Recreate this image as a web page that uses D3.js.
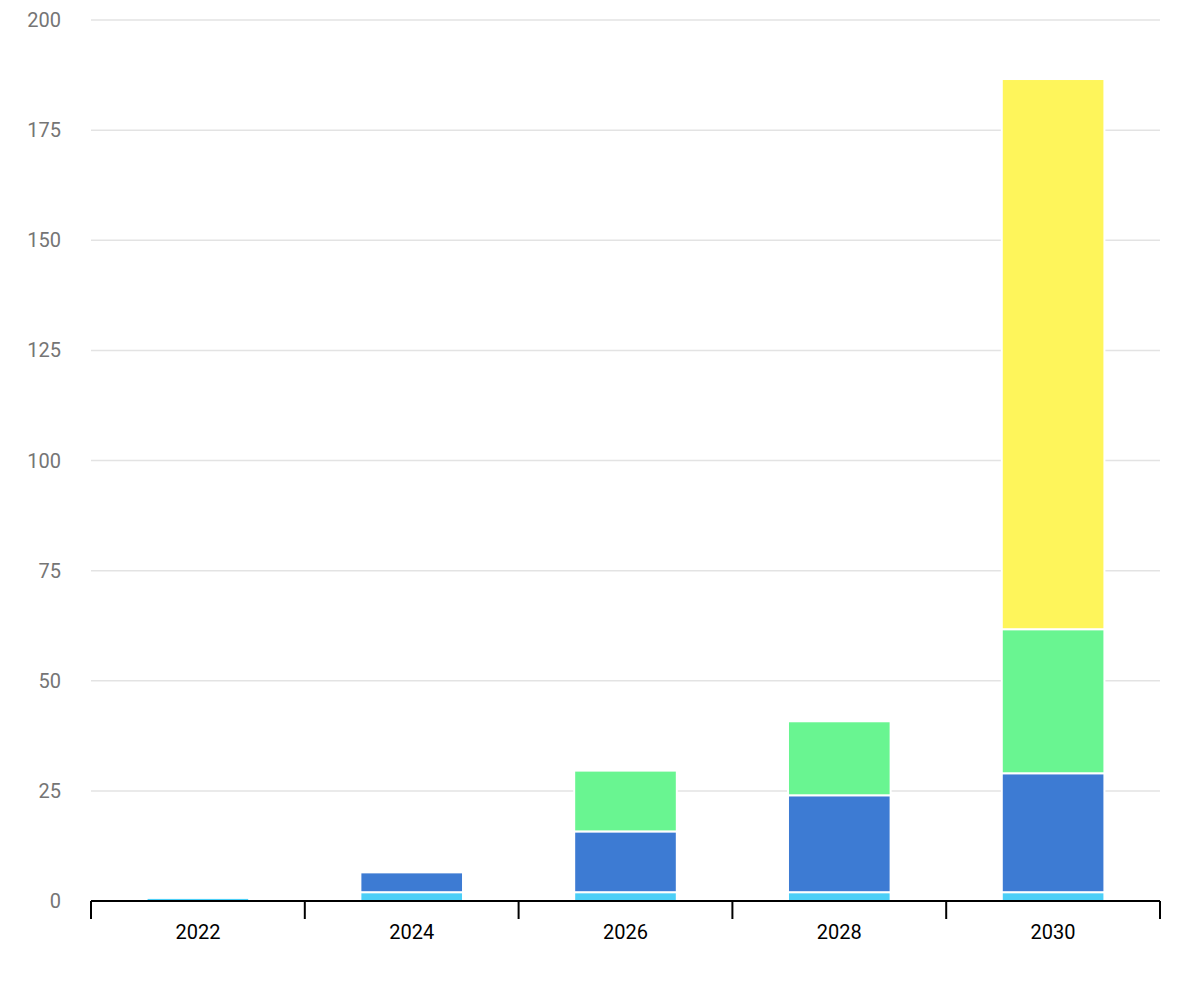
<!DOCTYPE html>
<html><head><meta charset="utf-8">
<script src="https://cdn.jsdelivr.net/npm/d3@7"></script>
<style>body{margin:0;background:#fff}</style>
</head><body>
<svg id="chart" width="1200" height="1000"></svg>
<script>
const years = ["2022", "2024", "2026", "2028", "2030"];
const seriesKeys = ["s1", "s2", "s3", "s4"];
const s1 = [0.7, 2, 2, 2, 2];
const s2 = [0, 4.5, 13.8, 22, 27];
const s3 = [0, 0, 13.8, 16.8, 32.7];
const s4 = [0, 0, 0, 0, 124.9];
const colors = ["#4ccff7", "#3d7bd3", "#69f591", "#fef55b"];
const yTicks = [0, 25, 50, 75, 100, 125, 150, 175, 200];

const margin = {top: 20, right: 40, bottom: 99, left: 91};
const svg = d3.select("#chart");
const width = 1200 - margin.left - margin.right;
const height = 1000 - margin.top - margin.bottom;
const g = svg.append("g").attr("transform", `translate(${margin.left},${margin.top})`);

const rows = years.map((y, i) => ({year: y, s1: s1[i], s2: s2[i], s3: s3[i], s4: s4[i]}));
const stacked = d3.stack().keys(seriesKeys)(rows);

const x = d3.scaleBand().domain(years).range([0, width]).paddingInner(0.52).paddingOuter(0.26);
const y = d3.scaleLinear().domain([0, 200]).range([height, 0]);

g.selectAll(".grid").data(yTicks.slice(1)).join("line")
  .attr("x1", 0).attr("x2", width)
  .attr("y1", d => y(d)).attr("y2", d => y(d))
  .attr("stroke", "#e3e3e3").attr("stroke-width", 1.5);

g.selectAll(".ylab").data(yTicks).join("text")
  .attr("x", -30).attr("y", d => y(d)).attr("dy", "0.35em")
  .attr("text-anchor", "end").attr("fill", "#757575")
  .style("font", "20px Roboto, Arial, sans-serif").text(d => d);

stacked.forEach((layer, li) => {
  g.selectAll(".bar" + li).data(layer.filter(d => d[1] > d[0])).join("rect")
    .attr("x", d => x(d.data.year))
    .attr("width", x.bandwidth())
    .attr("y", d => y(d[1]))
    .attr("height", d => y(d[0]) - y(d[1]))
    .attr("fill", colors[li])
    .attr("stroke", "#fff").attr("stroke-width", 2);
});

// x axis with ticks at band edges
const step = x.step();
const edges = d3.range(years.length + 1).map(i => i * width / years.length);
g.append("line").attr("x1", 0).attr("x2", width).attr("y1", height).attr("y2", height)
  .attr("stroke", "#000").attr("stroke-width", 2);
g.selectAll(".xtick").data(edges).join("line")
  .attr("x1", d => d).attr("x2", d => d).attr("y1", height).attr("y2", height + 18)
  .attr("stroke", "#000").attr("stroke-width", 2);
g.selectAll(".xlab").data(years).join("text")
  .attr("x", d => x(d) + x.bandwidth() / 2).attr("y", height + 38)
  .attr("text-anchor", "middle").attr("fill", "#000")
  .style("font", "20px Roboto, Arial, sans-serif").text(d => d);
</script>
</body></html>
